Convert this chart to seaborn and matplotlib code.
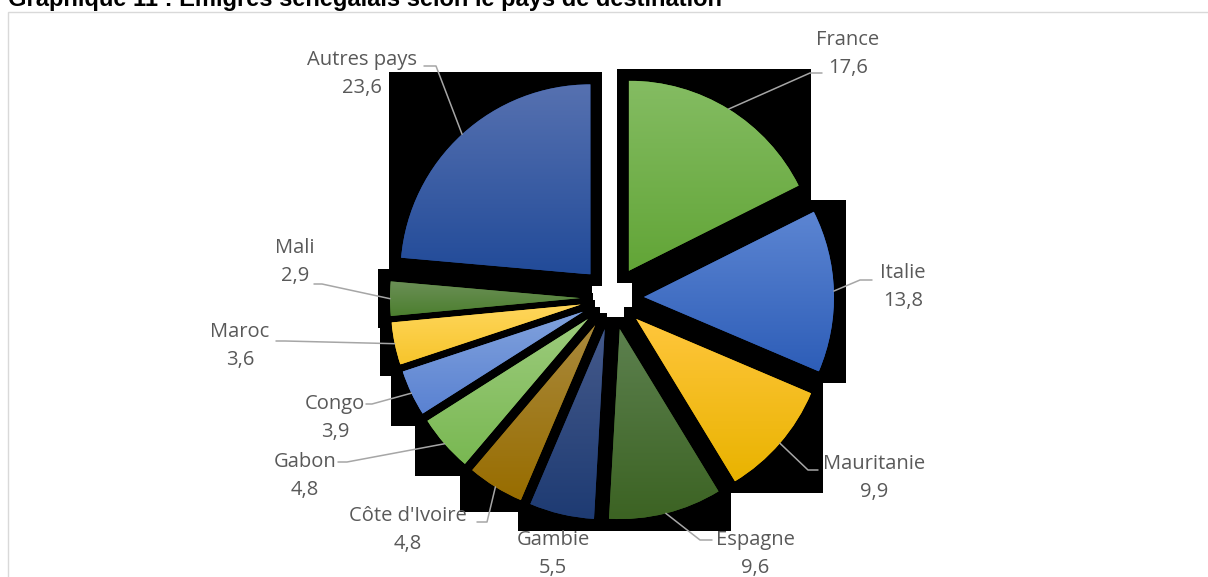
import matplotlib
matplotlib.use("Agg")
import matplotlib.pyplot as plt
from matplotlib.patches import Rectangle
from matplotlib.colors import LinearSegmentedColormap
import numpy as np
import seaborn as sns

# données
pays = ["France", "Italie", "Mauritanie", "Espagne", "Gambie", "Côte d'Ivoire",
        "Gabon", "Congo", "Maroc", "Mali", "Autres pays"]
parts = [17.6, 13.8, 9.9, 9.6, 5.5, 4.8, 4.8, 3.9, 3.6, 2.9, 23.6]
titre = "Graphique 11 : Emigrés sénégalais selon le pays de destination"

# couleurs (haut / bas du dégradé)
haut = ["#84BC62", "#5C85D2", "#FFC63C", "#5C804E", "#44598A", "#A9893C",
        "#9CCB7C", "#80A1DC", "#FFD65C", "#6B8F56", "#5671B0"]
bas = ["#62A537", "#2E5EB8", "#E9B300", "#3C6323", "#1E3B73", "#986D00",
       "#79B852", "#5A82D2", "#F7C52C", "#4C7F2F", "#224B99"]

# mise en page en pixels
W, H = 1208, 577
cx, cy, R = 612, 298, 190
ecart = 32 / R
pad = 12 / R
pos_lib = [(848, 54), (903, 287), (874, 478), (755, 554), (553, 554), (408, 530),
           (305, 476), (335, 418), (240, 346), (295, 262), (362, 74)]
coudes = [((810, 73), (822, 73)), ((860, 280), (872, 280)), ((808, 470), (818, 470)),
          ((700, 540), (712, 540)), None, ((487, 522), (477, 522)),
          ((347, 462), (338, 462)), ((372, 404), (366, 404)), ((285, 341), (276, 341)),
          ((322, 284), (314, 284)), ((436, 66), (424, 66))]


def px(x, y):
    return (x - cx) / R, (cy - y) / R


sns.set_theme(style="white")
plt.rcParams["font.family"] = ["Open Sans", "DejaVu Sans"]

fig = plt.figure(figsize=(W / 100, H / 100), dpi=100)
ax = fig.add_axes([0, 0, 1, 1])

wedges, _ = ax.pie(parts, radius=1, startangle=90, counterclock=False,
                   explode=[ecart] * len(parts), colors=bas,
                   wedgeprops=dict(linewidth=0, zorder=2))
ax.set_autoscale_on(False)

for w, c1, c2 in zip(wedges, haut, bas):
    bb = w.get_path().get_extents()
    ax.add_patch(Rectangle((bb.x0 - pad, bb.y0 - pad), bb.width + 2 * pad,
                           bb.height + 2 * pad, facecolor="black",
                           edgecolor="none", zorder=1))
    cmap = LinearSegmentedColormap.from_list("g", [c1, c2])
    grad = np.linspace(0, 1, 64).reshape(-1, 1)
    im = ax.imshow(grad, extent=(bb.x0, bb.x1, bb.y0, bb.y1), origin="upper",
                   cmap=cmap, aspect="auto", interpolation="bilinear", zorder=3)
    im.set_clip_path(w)

gris = "#595959"
for w, nom, v, p, cd in zip(wedges, pays, parts, pos_lib, coudes):
    tx, ty = px(*p)
    ax.text(tx, ty, f"{nom}\n{str(v).replace('.', ',')}", ha="center", va="center",
            fontsize=14.5, color=gris, linespacing=1.58, zorder=5)
    if cd is None:
        continue
    mid = np.deg2rad((w.theta1 + w.theta2) / 2)
    x0 = w.center[0] + w.r * np.cos(mid)
    y0 = w.center[1] + w.r * np.sin(mid)
    (ex, ey), (hx, hy) = px(*cd[0]), px(*cd[1])
    ax.plot([x0, ex, hx], [y0, ey, hy], color="#A6A6A6", lw=1.1, zorder=4)

ax.set_xlim(-cx / R, (W - cx) / R)
ax.set_ylim(-(H - cy) / R, cy / R)
ax.set_aspect("auto")
ax.axis("off")

fig.text(8 / W, 1 - 6 / H, titre, ha="left", va="baseline", fontsize=17,
         fontweight="bold", family="Liberation Sans", color="black")
fig.add_artist(Rectangle((8 / W, -0.05), 1.1, 1 - 12 / H + 0.05, fill=False,
                         edgecolor="#D9D9D9", lw=1, transform=fig.transFigure))

fig.savefig("out.png", dpi=100)
